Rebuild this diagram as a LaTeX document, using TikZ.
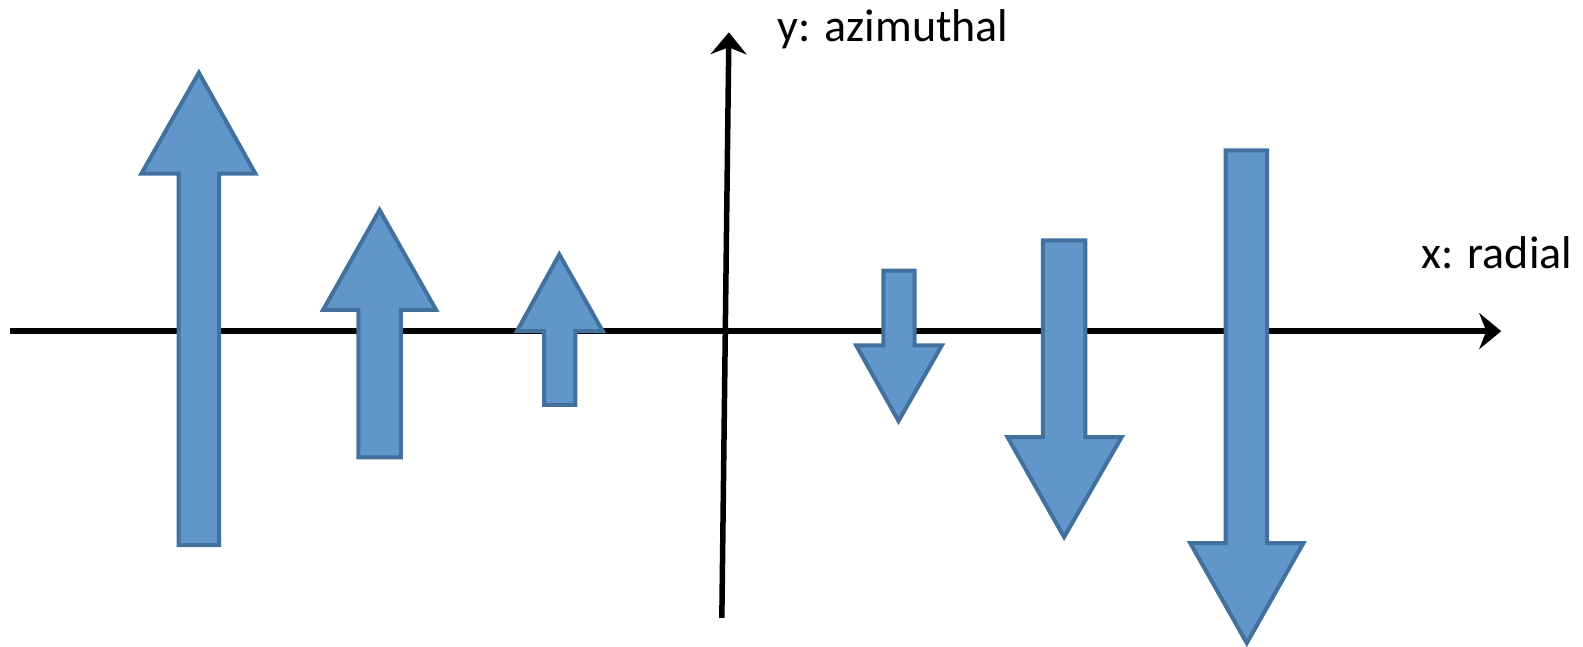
\documentclass[tikz,border=0pt]{standalone}
\usepackage{fontspec}
\setmainfont{Carlito}
\usetikzlibrary{arrows.meta}

\definecolor{vecfill}{RGB}{96,150,202}
\definecolor{vecline}{RGB}{65,113,156}

\tikzset{
    axis/.style={line width=5.5pt,-{Stealth[length=22pt,width=36pt,inset=7pt]}},
    vecarrow/.style={fill=vecfill,draw=vecline,line width=4pt,line join=miter},
    axislabel/.style={anchor=base west,inner sep=0pt,font=\fontsize{46}{55}\selectfont}
}

\begin{document}
\begin{tikzpicture}[x=1.0096pt,y=-1.0096pt]

        \useasboundingbox (0,0) rectangle (1568,640);

        % Axes
        \coordinate (xstart) at (10,328);
        \coordinate (xend) at (1487,328);
        \coordinate (ystart) at (715,612);
        \coordinate (yend) at (722,32);
        \draw[axis] (xstart) -- (xend);
        \draw[axis] (ystart) -- (yend);
        \node[axislabel] (xlabel) at (1408,266) {x: radial};
        \node[axislabel] (ylabel) at (770,41) {y: azimuthal};

        % Upward vectors
        \draw[vecarrow] (197,72) -- (253,172) -- (217,172) -- (217,540)
            -- (177,540) -- (177,172) -- (140,172) -- cycle;
        \draw[vecarrow] (376,208) -- (432,307) -- (397,307) -- (397,453)
            -- (355,453) -- (355,307) -- (320,307) -- cycle;
        \draw[vecarrow] (554,252) -- (597,328) -- (570,328) -- (570,401)
            -- (539,401) -- (539,328) -- (512,328) -- cycle;

        % Downward vectors
        \draw[vecarrow] (890,417) -- (933,342) -- (906,342) -- (906,268)
            -- (875,268) -- (875,342) -- (848,342) -- cycle;
        \draw[vecarrow] (1054,532) -- (1111,433) -- (1075,433) -- (1075,238)
            -- (1033,238) -- (1033,433) -- (998,433) -- cycle;
        \draw[vecarrow] (1235,637) -- (1291,538) -- (1255,538) -- (1255,149)
            -- (1214,149) -- (1214,538) -- (1179,538) -- cycle;

    \end{tikzpicture}
\end{document}
